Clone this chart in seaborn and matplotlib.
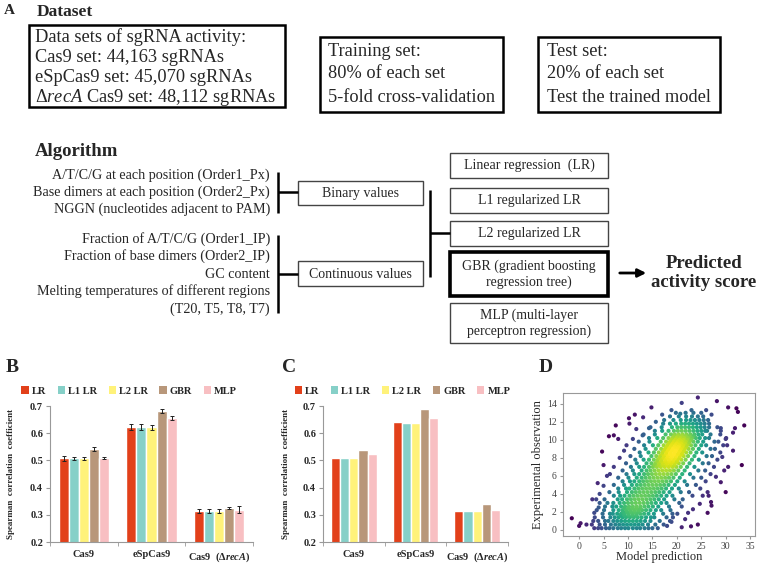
import numpy as np
import pandas as pd
import matplotlib
matplotlib.use("Agg")
import matplotlib.pyplot as plt
from matplotlib.patches import Rectangle
import seaborn as sns

# ---------------- data ----------------
models = ["LR", "L1 LR", "L2 LR", "GBR", "MLP"]
colors = ["#E2401A", "#86D0C8", "#FFF27A", "#B8977A", "#F8BFC2"]
groups = ["Cas9", "eSpCas9", "Cas9  (Δ$\\mathbfit{recA}$)"]

# B : 5-fold cross-validation (mean +- sd)
cv_lr = [0.507, 0.623, 0.314]
cv_l1 = [0.507, 0.622, 0.314]
cv_l2 = [0.507, 0.622, 0.313]
cv_gbr = [0.543, 0.681, 0.326]
cv_mlp = [0.508, 0.657, 0.319]
cv_err_lr = [0.008, 0.010, 0.009]
cv_err_l1 = [0.007, 0.010, 0.009]
cv_err_l2 = [0.007, 0.009, 0.008]
cv_err_gbr = [0.007, 0.007, 0.004]
cv_err_mlp = [0.003, 0.008, 0.014]

# C : test set
test_lr = [0.507, 0.640, 0.313]
test_l1 = [0.507, 0.638, 0.315]
test_l2 = [0.507, 0.638, 0.314]
test_gbr = [0.540, 0.690, 0.338]
test_mlp = [0.522, 0.657, 0.317]

# D : prediction vs observation, read row by row (y, x values)
cloud_rows = [
    (0.2, [3.1, 3.9, 4.6, 5.5, 6.2, 7.0, 7.9, 8.6, 9.4, 10.1, 11.0, 11.8, 12.5, 13.4, 14.2, 15.0, 16.1]),
    (0.6, [2.6, 4.2, 5.3, 6.5, 7.4, 8.2, 9.0, 9.8, 10.6, 11.4, 12.2, 13.0, 14.1, 15.6, 17.3]),
    (1.0, [3.9, 5.3, 6.0, 7.0, 7.8, 8.6, 9.4, 10.2, 11.0, 11.8, 12.6, 13.5, 14.6, 16.5, 18.6]),
    (1.4, [3.2, 4.9, 6.4, 7.3, 8.1, 8.9, 9.6, 10.4, 11.2, 12.0, 12.8, 13.7, 14.7, 15.4, 17.9, 19.2]),
    (1.6, [8.5, 9.3, 10.1, 10.9, 11.7]),
    (1.8, [4.8, 6.3, 6.9, 7.8, 8.6, 9.3, 10.1, 10.9, 11.7, 12.5, 13.3, 14.2, 15.3, 17.2, 19.1, 20.1]),
    (2.0, [9.0, 9.8, 10.6, 11.4, 12.2]),
    (2.2, [3.6, 5.1, 7.0, 8.1, 8.9, 9.7, 10.5, 11.3, 12.1, 12.9, 13.7, 14.6, 15.7, 16.8, 18.7]),
    (2.4, [9.3, 10.1, 10.9, 11.7, 12.5]),
    (2.6, [5.3, 6.8, 7.6, 8.6, 9.4, 10.2, 11.0, 11.8, 12.6, 13.4, 14.2, 15.1, 16.2, 18.4, 21.0]),
    (3.0, [4.2, 5.8, 7.0, 8.3, 9.2, 10.0, 10.8, 11.6, 12.4, 13.2, 14.0, 14.8, 15.7, 16.8, 17.9, 20.5]),
    (3.4, [5.2, 7.9, 8.8, 9.8, 10.6, 11.4, 12.2, 13.0, 13.8, 14.6, 15.4, 16.3, 17.4, 19.5, 21.2]),
    (3.8, [7.1, 8.4, 9.3, 10.3, 11.1, 11.9, 12.7, 13.5, 14.3, 15.1, 15.9, 16.8, 17.9, 19.1, 23.2]),
    (4.2, [6.2, 8.1, 9.8, 10.8, 11.6, 12.4, 13.2, 14.0, 14.8, 15.6, 16.4, 17.3, 18.5, 20.8, 22.5]),
    (4.6, [8.0, 9.6, 10.3, 11.3, 12.1, 12.9, 13.7, 14.5, 15.3, 16.1, 16.9, 17.8, 19.0, 20.4, 24.8]),
    (5.0, [7.1, 9.2, 10.8, 11.8, 12.6, 13.4, 14.2, 15.0, 15.8, 16.6, 17.4, 18.3, 19.6, 22.1, 23.9]),
    (5.4, [8.9, 10.4, 11.3, 12.3, 13.1, 13.9, 14.7, 15.5, 16.3, 17.1, 17.9, 18.8, 20.1, 21.6, 25.9]),
    (5.8, [8.0, 10.1, 11.8, 12.8, 13.6, 14.4, 15.2, 16.0, 16.8, 17.6, 18.4, 19.3, 20.6, 23.4, 25.0]),
    (6.2, [9.7, 11.3, 12.3, 13.3, 14.1, 14.9, 15.7, 16.5, 17.3, 18.1, 18.9, 19.8, 21.1, 22.7, 26.9]),
    (6.6, [8.9, 11.0, 12.8, 13.8, 14.6, 15.4, 16.2, 17.0, 17.8, 18.6, 19.4, 20.3, 21.6, 24.4, 25.8]),
    (7.0, [10.6, 12.3, 13.3, 14.3, 15.1, 15.9, 16.7, 17.5, 18.3, 19.1, 19.9, 20.8, 22.1, 23.6, 27.6]),
    (7.2, [15.5, 16.3, 17.1, 17.9, 18.7, 19.5]),
    (7.4, [9.6, 11.8, 13.8, 14.8, 15.6, 16.4, 17.2, 18.0, 18.8, 19.6, 20.4, 21.3, 22.6, 25.3, 26.5]),
    (7.6, [16.0, 16.8, 17.6, 18.4, 19.2, 20.0]),
    (7.8, [11.5, 13.2, 14.3, 15.3, 16.1, 16.9, 17.7, 18.5, 19.3, 20.1, 20.9, 21.8, 23.1, 24.5, 28.3]),
    (8.0, [16.5, 17.3, 18.1, 18.9, 19.7, 20.5]),
    (8.2, [10.5, 12.6, 14.8, 15.8, 16.6, 17.4, 18.2, 19.0, 19.8, 20.6, 21.4, 22.3, 23.6, 26.1, 27.2]),
    (8.4, [17.0, 17.8, 18.6, 19.4, 20.2, 21.0]),
    (8.6, [12.4, 14.2, 15.3, 16.3, 17.1, 17.9, 18.7, 19.5, 20.3, 21.1, 21.9, 22.8, 24.0, 25.2, 28.9]),
    (8.8, [17.4, 18.2, 19.0, 19.8, 20.6, 21.4]),
    (9.0, [11.3, 13.6, 15.7, 16.8, 17.6, 18.4, 19.2, 20.0, 20.8, 21.6, 22.4, 23.3, 24.5, 26.9, 27.8]),
    (9.2, [17.9, 18.7, 19.5, 20.3, 21.1, 21.9]),
    (9.4, [13.3, 15.1, 16.2, 17.3, 18.1, 18.9, 19.7, 20.5, 21.3, 22.1, 22.9, 23.8, 25.0, 26.0, 29.5]),
    (9.6, [18.4, 19.2, 20.0, 20.8, 21.6, 22.4]),
    (9.8, [12.2, 14.4, 16.7, 17.8, 18.6, 19.4, 20.2, 21.0, 21.8, 22.6, 23.4, 24.3, 25.4, 27.7, 28.5]),
    (10.0, [18.9, 19.7, 20.5, 21.3, 22.1, 22.9]),
    (10.2, [14.3, 16.0, 17.2, 18.3, 19.1, 19.9, 20.7, 21.5, 22.3, 23.1, 23.9, 24.7, 25.8, 26.6, 30.1]),
    (10.4, [19.4, 20.2, 21.0, 21.8, 22.6, 23.4]),
    (10.6, [13.2, 15.5, 17.7, 18.8, 19.6, 20.4, 21.2, 22.0, 22.8, 23.6, 24.4, 25.2, 26.9, 28.9]),
    (11.0, [15.5, 17.0, 18.3, 19.4, 20.2, 21.0, 21.8, 22.6, 23.4, 24.2, 25.0, 25.8, 26.2, 29.0]),
    (11.4, [14.6, 16.9, 19.0, 20.1, 20.9, 21.7, 22.5, 23.3, 24.1, 24.9, 25.7, 26.6, 28.3]),
    (11.8, [17.2, 18.6, 19.8, 20.9, 21.7, 22.5, 23.3, 24.1, 24.9, 25.7, 26.6]),
    (12.2, [17.4, 19.3, 20.8, 21.9, 22.8, 23.7, 24.6, 25.5, 26.4]),
    (12.6, [18.6, 20.4, 21.9, 23.1, 24.3, 25.4]),
    (13.0, [19.8, 21.8, 23.4, 25.0]),
]
outlier_x = [-1.5, 0.3, 0.0, 1.5, 2.9, 2.7, 3.5, 4.2, 4.7, 5.0, 3.8, 5.7, 6.1, 7.1, 7.5, 8.0,
             9.2, 10.2, 10.3, 11.4, 11.7, 13.1, 14.8, 18.9, 21.0, 24.3, 28.2, 30.5, 32.2, 32.5,
             33.8, 31.9, 31.5, 30.3, 31.5, 30.5, 33.3, 30.0, 26.3, 26.5, 27.0, 27.1, 26.3, 24.3,
             22.9, 21.0, 18.9, 18.0, 21.7, 22.3, 23.3, 24.7, 25.3, 29.0, 28.0, 29.7, 29.3, 30.0,
             29.0, 27.1, 26.0, 23.0, 20.7, 17.0, 15.7, 14.3, 13.0, 11.0, 9.7, 8.3, 7.1, 6.3,
             5.0, 4.0, 3.1]
outlier_y = [1.3, 0.75, 0.45, 0.6, 1.0, 3.4, 3.4, 4.0, 8.7, 7.2, 5.2, 6.0, 10.4, 10.5, 11.6, 10.1,
             8.8, 12.4, 11.8, 12.8, 11.2, 12.5, 13.6, 13.3, 14.1, 14.7, 14.3, 13.6, 13.5, 13.1,
             11.6, 11.3, 10.8, 9.4, 8.8, 7.0, 7.2, 4.2, 4.2, 3.8, 3.1, 2.7, 1.9, 0.6,
             0.4, 0.3, 0.9, 0.45, 1.2, 1.9, 2.3, 2.9, 3.8, 5.3, 5.9, 6.6, 8.1, 10.1,
             11.3, 12.8, 13.3, 13.3, 12.9, 12.8, 12.0, 11.3, 10.5, 10.1, 9.4, 8.0, 7.0, 6.2,
             4.9, 2.5, 1.9]

dataset_lines = ["Data sets of sgRNA activity:", "Cas9 set: 44,163 sgRNAs",
                 "eSpCas9 set: 45,070 sgRNAs", "Δ$\\mathit{recA}$ Cas9 set: 48,112 sgRNAs"]
training_lines = ["Training set:", "80% of each set", "5-fold cross-validation"]
test_lines = ["Test set:", "20% of each set", "Test the trained model"]
binary_feats = ["A/T/C/G at each position (Order1_Px)",
                "Base dimers at each position (Order2_Px)",
                "NGGN (nucleotides adjacent to PAM)"]
cont_feats = ["Fraction of A/T/C/G (Order1_IP)", "Fraction of base dimers (Order2_IP)",
              "GC content", "Melting temperatures of different regions", "(T20, T5, T8, T7)"]
algos = ["Linear regression  (LR)", "L1 regularized LR", "L2 regularized LR",
         "GBR (gradient boosting\nregression tree)", "MLP (multi-layer\nperceptron regression)"]

# ---------------- style ----------------
sns.set_style("ticks")
plt.rcParams["font.family"] = ["Liberation Serif", "DejaVu Serif"]
plt.rcParams["mathtext.fontset"] = "custom"
plt.rcParams["mathtext.rm"] = "Liberation Serif"
plt.rcParams["mathtext.it"] = "Liberation Serif:italic"
plt.rcParams["mathtext.bf"] = "Liberation Serif:bold"
plt.rcParams["mathtext.bfit"] = "Liberation Serif:italic:bold"

fig = plt.figure(figsize=(7.57, 5.63), dpi=100)

# canvas in pixel coordinates for the diagram (panel A)
cv = fig.add_axes([0, 0, 1, 1])
cv.set_xlim(0, 757)
cv.set_ylim(563, 0)
cv.axis("off")


def box(x0, y0, x1, y1, lw=1.0, color="#444444"):
    cv.add_patch(Rectangle((x0, y0), x1 - x0, y1 - y0, fill=False, lw=lw, ec=color))


def line(xs, ys, lw=1.8):
    cv.plot(xs, ys, color="black", lw=lw, solid_capstyle="butt")


cv.text(4, 11, "A", fontsize=11, fontweight="bold", va="center")
cv.text(37, 12, "Dataset", fontsize=12.5, fontweight="bold", va="center")

box(29, 25, 285, 107, lw=1.8, color="black")
for i, s in enumerate(dataset_lines):
    cv.text(35, 37 + i * 20, s, fontsize=13.2, va="center")
box(320, 37, 503, 112, lw=1.8, color="black")
for i, s in enumerate(training_lines):
    cv.text(328, 51 + i * 23, s, fontsize=13.2, va="center")
box(538, 37, 720, 112, lw=1.8, color="black")
for i, s in enumerate(test_lines):
    cv.text(547, 51 + i * 23, s, fontsize=13.2, va="center")

cv.text(35, 152, "Algorithm", fontsize=13.5, fontweight="bold", va="center")
for i, s in enumerate(binary_feats):
    cv.text(270, 175 + i * 17.3, s, fontsize=10.2, va="center", ha="right")
for i, s in enumerate(cont_feats):
    cv.text(270, 239 + i * 17.5, s, fontsize=10.2, va="center", ha="right")

line([278, 278], [172, 213])
line([278, 298], [192, 192])
line([278, 278], [235, 313])
line([278, 298], [274, 274])
box(298, 181, 423, 205)
cv.text(360, 193, "Binary values", fontsize=10, ha="center", va="center")
box(298, 261, 423, 286)
cv.text(360, 274, "Continuous values", fontsize=10, ha="center", va="center")
line([430, 430], [190, 277])
line([430, 450], [233, 233])

algo_boxes = [(153, 178), (188, 213), (221, 246), (252, 296), (303, 343)]
for (y0, y1), s in zip(algo_boxes, algos):
    if s.startswith("GBR"):
        box(450, y0, 608, y1, lw=2.6, color="black")
    else:
        box(450, y0, 608, y1)
    cv.text(529, (y0 + y1) / 2, s, fontsize=10, ha="center", va="center", linespacing=1.25)

cv.annotate("", xy=(649, 273), xytext=(617, 273),
            arrowprops=dict(arrowstyle="-|>", color="black", lw=2, mutation_scale=12))
cv.text(704, 273, "Predicted\nactivity score", fontsize=13.5, fontweight="bold",
        ha="center", va="center", linespacing=1.1)

for lab, x in [("B", 6), ("C", 282), ("D", 539)]:
    cv.text(x, 367, lab, fontsize=14, fontweight="bold", va="center")


# ---------------- B and C ----------------
def bar_panel(rect, vals, errs, leg_x, lab_x):
    ax = fig.add_axes(rect)
    df = pd.DataFrame({"group": np.repeat([groups], len(models), axis=0).ravel(),
                       "model": np.repeat(models, len(groups)),
                       "value": np.concatenate(vals)})
    sns.barplot(data=df, x="group", y="value", hue="model", hue_order=models,
                order=groups, palette=colors, width=0.74, saturation=1,
                errorbar=None, legend=False, ax=ax)
    if errs is not None:
        for cont, e in zip(ax.containers, errs):
            for bar, err in zip(cont, e):
                ax.errorbar(bar.get_x() + bar.get_width() / 2, bar.get_height(), yerr=err,
                            color="#222222", lw=0.7, capsize=1.5, capthick=0.7)
    ax.set_ylim(0.2, 0.7)
    ax.set_xlim(-0.5, 2.5)
    ax.set_yticks([0.2, 0.3, 0.4, 0.5, 0.6, 0.7])
    ax.set_yticklabels(["0.2", "0.3", "0.4", "0.5", "0.6", "0.7"])
    ax.set_xticks([-0.5, 0.5, 1.5, 2.5], minor=True)
    ax.tick_params(axis="x", which="major", length=0, pad=6)
    ax.tick_params(axis="x", which="minor", length=3, color="#999999")
    ax.tick_params(axis="y", length=3, color="#999999", pad=2)
    for t in ax.get_xticklabels() + ax.get_yticklabels():
        t.set_fontweight("bold")
        t.set_fontsize(7.5)
    sns.despine(ax=ax)
    for sp in ["left", "bottom"]:
        ax.spines[sp].set_color("#999999")
        ax.spines[sp].set_linewidth(0.8)
    ax.set_xlabel("")
    ax.set_ylabel("Spearman  correlation  coefficient", fontsize=6.5, fontweight="bold")
    ax.yaxis.set_label_coords(lab_x, 0.5)
    handles = [Rectangle((0, 0), 1, 1, fc=c, ec="none") for c in colors]
    ax.legend(handles, models, loc="center", bbox_to_anchor=(leg_x, 1.11), ncol=5,
              frameon=False, handlelength=0.7, handleheight=0.7, handletextpad=0.3,
              columnspacing=1.1, borderaxespad=0, prop={"weight": "bold", "size": 7.5})
    return ax


axB = bar_panel([50 / 757, 1 - 542 / 563, 203 / 757, 136 / 563],
                [cv_lr, cv_l1, cv_l2, cv_gbr, cv_mlp],
                [cv_err_lr, cv_err_l1, cv_err_l2, cv_err_gbr, cv_err_mlp], 0.39, -0.172)
axC = bar_panel([323 / 757, 1 - 542 / 563, 185 / 757, 136 / 563],
                [test_lr, test_l1, test_l2, test_gbr, test_mlp], None, 0.43, -0.178)

# ---------------- D ----------------
px = np.concatenate([np.array(xs, dtype=float) for _, xs in cloud_rows] + [np.array(outlier_x)])
py = np.concatenate([np.full(len(xs), y) for y, xs in cloud_rows] + [np.array(outlier_y)])
dx = (px[:, None] - px[None, :]) / 3.2
dy = (py[:, None] - py[None, :]) / 2.0
dens = np.exp(-0.5 * (dx ** 2 + dy ** 2)).sum(axis=1)
order = np.argsort(dens)
pts = pd.DataFrame({"pred": px[order], "obs": py[order], "density": dens[order]})

axD = fig.add_axes([563 / 757, 1 - 536 / 563, 192 / 757, 143 / 563])
sns.scatterplot(data=pts, x="pred", y="obs", hue="density", palette="viridis",
                s=9, linewidth=0, legend=False, ax=axD)
axD.set_xlim(-3.3, 36)
axD.set_ylim(-0.67, 15.2)
axD.set_xticks(range(0, 36, 5))
axD.set_yticks(range(0, 15, 2))
axD.tick_params(labelsize=7, labelcolor="#444444", length=2.5, color="#999999", pad=2)
for sp in axD.spines.values():
    sp.set_color("#999999")
    sp.set_linewidth(0.8)
axD.set_xlabel("Model prediction", fontsize=9, labelpad=0)
axD.set_ylabel("Experimental observation", fontsize=9, labelpad=2)

fig.savefig("out.png", dpi=100)
